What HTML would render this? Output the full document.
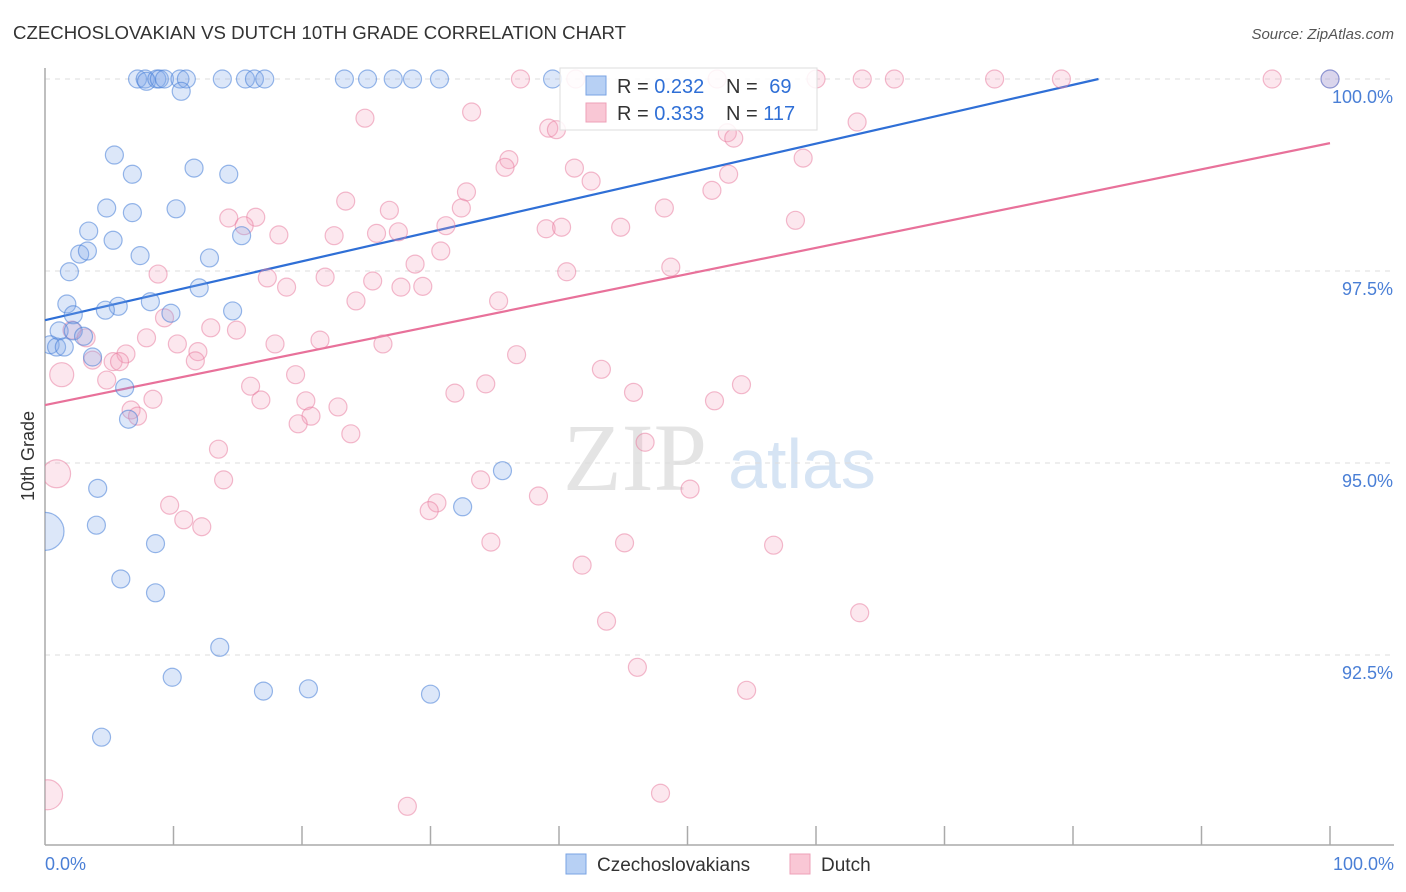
<!DOCTYPE html>
<html><head><meta charset="utf-8">
<style>
body{margin:0;background:#fff;font-family:"Liberation Sans",sans-serif;}
svg{display:block}
</style></head>
<body>
<svg id="chart" width="1406" height="892" viewBox="0 0 1406 892" xmlns="http://www.w3.org/2000/svg">
<text x="13" y="39" font-size="18" fill="#333" font-family="Liberation Sans" textLength="613" lengthAdjust="spacingAndGlyphs">CZECHOSLOVAKIAN VS DUTCH 10TH GRADE CORRELATION CHART</text>
<text x="1394" y="39" font-size="15" fill="#555" text-anchor="end" font-style="italic">Source: ZipAtlas.com</text>
<text transform="translate(34,456) rotate(-90)" font-size="18" fill="#333" text-anchor="middle">10th Grade</text>
<g>
<text x="635" y="490" font-size="96" fill="#e4e4e4" text-anchor="middle" font-family="Liberation Serif">ZIP</text>
<text x="802" y="488" font-size="70" fill="#d6e4f4" text-anchor="middle">atlas</text>
</g>
<g id="grid"></g>
<g id="axes"></g>
<defs><clipPath id="plotclip"><rect x="45" y="60" width="1360" height="785"/></clipPath></defs>
<g id="lines"></g>
<g id="points" clip-path="url(#plotclip)"></g>
<g>
<rect x="560" y="68" width="257" height="62" fill="#fff" fill-opacity="0.85" stroke="#ddd"/>
<rect x="586" y="76" width="20" height="19" fill="#b7d0f4" stroke="#7aa3e3"/>
<rect x="586" y="103" width="20" height="19" fill="#f9c7d5" stroke="#eea0b8"/>
<text x="617" y="93" font-size="20" fill="#333">R = <tspan fill="#2f6fd6">0.232</tspan></text>
<text x="726" y="93" font-size="20" fill="#333">N = <tspan fill="#2f6fd6" dx="6">69</tspan></text>
<text x="617" y="120" font-size="20" fill="#333">R = <tspan fill="#2f6fd6">0.333</tspan></text>
<text x="726" y="120" font-size="20" fill="#333">N = <tspan fill="#2f6fd6">117</tspan></text>
</g>
<g>
<rect x="566" y="854" width="20" height="20" fill="#b7d0f4" stroke="#7aa3e3"/>
<text x="597" y="871" font-size="19" fill="#333">Czechoslovakians</text>
<rect x="790" y="854" width="20" height="20" fill="#f9c7d5" stroke="#eea0b8"/>
<text x="821" y="871" font-size="19" fill="#333">Dutch</text>
</g>
</svg>
<script>
const yTicks=[100,97.5,95,92.5];
const yTickLabels=["100.0%","97.5%","95.0%","92.5%"];
const xTickLabels=["0.0%","100.0%"];
const blueX=[7.2,7.8,7.9,8.7,8.9,9.3,10.5,11.0,13.8,15.6,16.3,17.1,23.3,25.1,27.1,28.6,30.7,39.5,100,10.6,5.4,6.8,11.6,14.3,4.8,6.8,10.2,3.4,5.3,15.3,2.7,3.3,7.4,12.8,1.9,12.0,1.7,5.7,8.2,4.7,9.8,14.6,2.2,1.1,2.2,3.0,0.4,0.9,1.5,3.7,6.2,6.5,35.6,4.1,32.5,4.0,0,8.6,5.9,8.6,13.6,9.9,17.0,20.5,30.0,4.4];
const blueY=[100,100,99.97,100,100,100,100,100,100,100,100,100,100,100,100,100,100,100,100,99.84,99.01,98.76,98.84,98.76,98.32,98.26,98.31,98.02,97.90,97.96,97.72,97.76,97.70,97.67,97.49,97.28,97.07,97.04,97.10,96.99,96.95,96.98,96.93,96.72,96.72,96.65,96.54,96.51,96.51,96.38,95.98,95.57,94.90,94.67,94.43,94.19,94.11,93.95,93.49,93.31,92.60,92.21,92.03,92.06,91.99,91.43];
const blueR={56:19};
const pinkX=[0.9,0.2,1.3,37.0,41.3,52.3,60.0,63.6,66.1,73.9,79.1,95.5,100,24.9,33.2,39.2,39.8,53.1,53.6,63.2,36.1,35.8,41.2,42.5,59.0,53.2,32.8,51.9,23.4,32.4,26.8,48.2,14.3,16.4,58.4,15.5,18.2,22.5,25.8,27.5,31.2,39.0,40.2,44.8,30.8,28.8,8.8,17.3,21.8,25.5,40.6,48.7,18.8,27.7,29.4,24.2,35.3,9.3,12.9,14.9,2.1,3.2,7.9,21.4,17.9,26.3,10.3,11.9,11.7,6.3,3.7,5.3,5.8,36.7,43.3,19.5,4.8,16.0,34.3,54.2,31.9,45.8,8.4,16.8,20.3,52.1,6.7,7.2,22.8,20.7,19.7,23.8,13.5,46.7,13.9,33.9,9.7,30.5,29.9,10.8,12.2,38.4,50.2,34.7,45.1,56.7,41.8,43.7,63.4,46.1,54.6,28.2,47.9];
const pinkY=[94.86,90.68,96.15,100,100,100,100,100,100,100,100,100,100,99.49,99.57,99.36,99.34,99.30,99.23,99.44,98.95,98.85,98.84,98.67,98.97,98.76,98.53,98.55,98.41,98.32,98.29,98.32,98.19,98.20,98.16,98.09,97.97,97.96,97.99,98.01,98.09,98.05,98.07,98.07,97.76,97.59,97.46,97.41,97.42,97.37,97.49,97.55,97.29,97.29,97.30,97.11,97.11,96.89,96.76,96.73,96.73,96.63,96.63,96.60,96.55,96.55,96.55,96.45,96.33,96.42,96.34,96.32,96.32,96.41,96.22,96.15,96.08,96.00,96.03,96.02,95.91,95.92,95.83,95.82,95.81,95.81,95.69,95.61,95.73,95.61,95.51,95.38,95.18,95.27,94.78,94.78,94.45,94.48,94.38,94.26,94.17,94.57,94.66,93.97,93.96,93.93,93.67,92.94,93.05,92.34,92.04,90.53,90.70];
const pinkR={0:14,1:15,2:12};
const blueLine=[96.86,0.0383];
const pinkLine=[95.755,0.0341];
const NS="http://www.w3.org/2000/svg";
const X0=45,X1=1330,Y100=79,PXPER=76.8;
function sx(v){return X0+(X1-X0)*v/100;}
function sy(v){return Y100+(100-v)*PXPER;}
function mk(tag,attrs,parent){const e=document.createElementNS(NS,tag);for(const k in attrs)e.setAttribute(k,attrs[k]);parent.appendChild(e);return e;}
const grid=document.getElementById('grid'),axes=document.getElementById('axes');
yTicks.forEach((t,i)=>{
 const l=mk('line',{x1:45,x2:1394,y1:sy(t),y2:sy(t),stroke:'#ddd','stroke-dasharray':'5,5'},grid);
 
 
 const tx=mk('text',{x:1393,y:sy(t)+24,'font-size':18,fill:'#4a7fd6','text-anchor':'end'},axes);
 tx.textContent=yTickLabels[i];
 
 
});
const ya=mk('line',{x1:45,x2:45,y1:68,y2:845,stroke:'#aaa','stroke-width':1.5},axes);


const xa=mk('line',{x1:45,x2:1394,y1:845,y2:845,stroke:'#aaa','stroke-width':1.5},axes);


for(let i=1;i<=10;i++){
 const t=mk('line',{x1:sx(i*10),x2:sx(i*10),y1:826,y2:845,stroke:'#aaa','stroke-width':1.5},axes);
 
 
}
[[0,'start',45],[100,'end',1394]].forEach((d,i)=>{
 const tx=mk('text',{x:d[2],y:870,'font-size':18,fill:'#4a7fd6','text-anchor':d[1]},axes);
 tx.textContent=xTickLabels[i];
 
 
});
const pts=document.getElementById('points');
function drawSeries(xs,ys,rs,fill,stroke,name){
 xs.forEach((x,i)=>{
  const c=mk('circle',{cx:sx(x),cy:sy(ys[i]),r:rs[i]||9,fill:fill,stroke:stroke,'stroke-width':1.2},pts);
  
  
 });
}
drawSeries(pinkX,pinkY,pinkR,'rgba(244,160,188,0.25)','rgba(232,120,155,0.5)','dutch-point');
drawSeries(blueX,blueY,blueR,'rgba(130,170,235,0.28)','rgba(70,125,215,0.55)','czechoslovakian-point');
const lines=document.getElementById('lines');
function trend(c,col,name){
 let xe=100,ye=c[0]+c[1]*100;
 if(ye>100){xe=(100-c[0])/c[1];ye=100;}
 const l=mk('line',{x1:sx(0),y1:sy(c[0]),x2:sx(xe),y2:sy(ye),stroke:col,'stroke-width':2.2},lines);
 
 
}
trend(blueLine,'#2f6fd6','czechoslovakian-trendline');
trend(pinkLine,'#e8719a','dutch-trendline');
</script>
</body></html>
